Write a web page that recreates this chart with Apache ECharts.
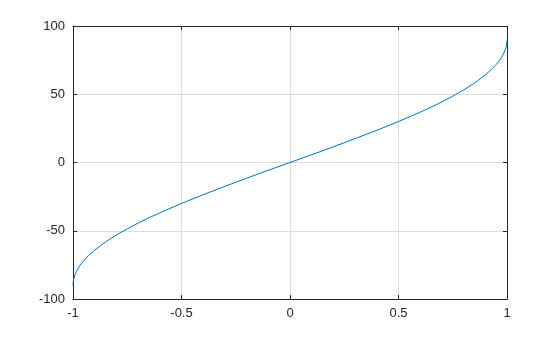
<!DOCTYPE html>
<html><head><meta charset="utf-8">
<script src="https://cdn.jsdelivr.net/npm/echarts@6/dist/echarts.min.js"></script>
<style>html,body{margin:0;padding:0;background:#fff}#c{width:560px;height:337px}</style>
</head><body><div id="c"></div>
<script>
const xValues = [-1, -0.9999, -0.999, -0.997, -0.995, -0.99, -0.985, -0.98, -0.97, -0.96, -0.95, -0.93, -0.9, -0.87, -0.85, -0.8, -0.75, -0.7, -0.65, -0.6, -0.5, -0.4, -0.3, -0.2, -0.1, 0,
  0.1, 0.2, 0.3, 0.4, 0.5, 0.6, 0.65, 0.7, 0.75, 0.8, 0.85, 0.87, 0.9, 0.93, 0.95, 0.96, 0.97, 0.98, 0.985, 0.99, 0.995, 0.997, 0.999, 0.9999, 1];
const yValues = [-90, -89.2, -87.4, -85.6, -84.3, -81.9, -80.1, -78.5, -75.9, -73.7, -71.8, -68.4, -64.2, -60.5, -58.2, -53.1, -48.6, -44.4, -40.5, -36.9, -30, -23.6, -17.5, -11.5, -5.7, 0,
  5.7, 11.5, 17.5, 23.6, 30, 36.9, 40.5, 44.4, 48.6, 53.1, 58.2, 60.5, 64.2, 68.4, 71.8, 73.7, 75.9, 78.5, 80.1, 81.9, 84.3, 85.6, 87.4, 89.2, 90];
const xTicks = [-1, -0.5, 0, 0.5, 1];
const yTicks = [-100, -50, 0, 50, 100];

const chart = echarts.init(document.getElementById('c'), null, {renderer: 'canvas'});
const font = {fontFamily: 'Liberation Sans', fontSize: 13, color: '#262626'};
const axisBase = {
  type: 'value',
  axisLine: {show: true, onZero: false, lineStyle: {color: '#262626', width: 1}},
  axisTick: {show: true, inside: true, length: 4, lineStyle: {color: '#262626'}},
  splitLine: {show: false}
};
chart.setOption({
  animation: false,
  grid: {left: 73, right: 53, top: 26, bottom: 38, containLabel: false},
  xAxis: [
    Object.assign({}, axisBase, {position: 'bottom', min: xTicks[0], max: xTicks[xTicks.length-1], interval: 0.5,
      axisLabel: Object.assign({margin: 8, formatter: v => String(v)}, font),
      splitLine: {show: true, lineStyle: {color: '#dcdcdc', width: 1}}}),
    Object.assign({}, axisBase, {position: 'top', min: -1, max: 1, interval: 0.5, axisLabel: {show: false}})
  ],
  yAxis: [
    Object.assign({}, axisBase, {position: 'left', min: yTicks[0], max: yTicks[yTicks.length-1], interval: 50,
      axisLabel: Object.assign({margin: 8}, font),
      splitLine: {show: true, lineStyle: {color: '#dcdcdc', width: 1}}}),
    Object.assign({}, axisBase, {position: 'right', min: -100, max: 100, interval: 50, axisLabel: {show: false}})
  ],
  series: [{
    type: 'line', xAxisIndex: 0, yAxisIndex: 0,
    data: xValues.map((x, i) => [x, yValues[i]]),
    showSymbol: false, smooth: false,
    lineStyle: {color: '#0072BD', width: 1}
  }]
});
</script></body></html>
